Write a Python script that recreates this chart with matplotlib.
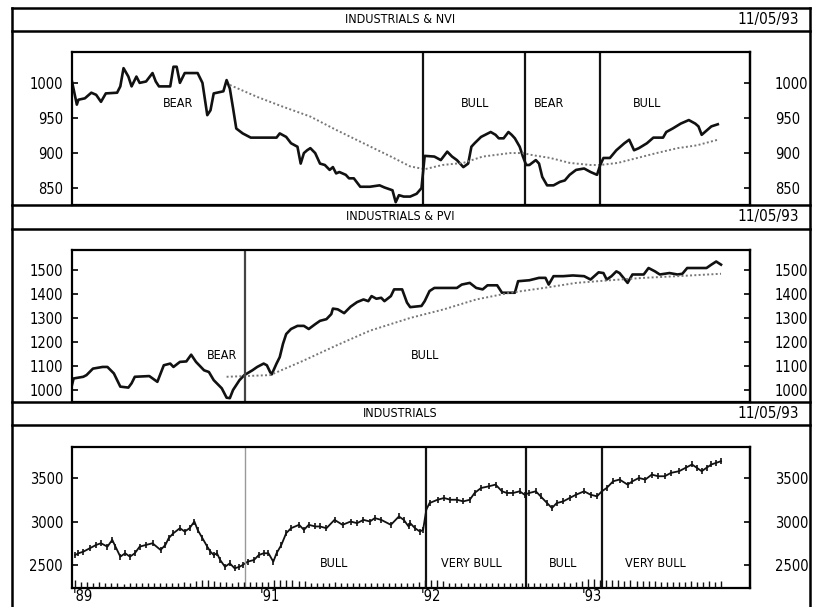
import matplotlib
matplotlib.use("Agg")
import matplotlib.pyplot as plt
from matplotlib.lines import Line2D
import numpy as np

plt.rcParams['font.family'] = ['DejaVu Sans']
plt.rcParams['font.stretch'] = 'condensed'

# ---------------- data (fractional years, index values) ----------------
nvi_x = [1989.77, 1989.80, 1989.81, 1989.85, 1989.89, 1989.92, 1989.95, 1989.98, 1990.05, 1990.07,
         1990.09, 1990.12, 1990.14, 1990.17, 1990.19, 1990.23, 1990.27, 1990.29, 1990.31, 1990.38,
         1990.40, 1990.42, 1990.44, 1990.47, 1990.55, 1990.58, 1990.61, 1990.63, 1990.65, 1990.71,
         1990.73, 1990.75, 1990.77, 1990.79, 1990.83, 1990.88, 1991.04, 1991.06, 1991.10, 1991.13,
         1991.17, 1991.19, 1991.21, 1991.23, 1991.25, 1991.28, 1991.31, 1991.34, 1991.37, 1991.39,
         1991.41, 1991.43, 1991.47, 1991.49, 1991.52, 1991.56, 1991.62, 1991.68, 1991.71, 1991.76,
         1991.78, 1991.80, 1991.83, 1991.87, 1991.91, 1991.94, 1991.95, 1991.96, 1992.02, 1992.06,
         1992.10, 1992.13, 1992.16, 1992.20, 1992.23, 1992.25, 1992.27, 1992.31, 1992.37, 1992.40,
         1992.42, 1992.45, 1992.48, 1992.50, 1992.52, 1992.55, 1992.57, 1992.59, 1992.61, 1992.65,
         1992.67, 1992.69, 1992.72, 1992.76, 1992.80, 1992.83, 1992.86, 1992.90, 1992.95, 1992.99,
         1993.03, 1993.05, 1993.07, 1993.11, 1993.15, 1993.20, 1993.23, 1993.26, 1993.29, 1993.34,
         1993.38, 1993.44, 1993.46, 1993.50, 1993.55, 1993.60, 1993.64, 1993.66, 1993.68, 1993.70,
         1993.74, 1993.78]
nvi = [1002, 969, 976, 978, 986, 983, 973, 985, 986, 995,
       1021, 1009, 995, 1009, 1000, 1002, 1014, 1002, 995, 995,
       1023, 1023, 1000, 1014, 1014, 1000, 954, 961, 985, 988,
       1004, 992, 964, 935, 928, 922, 922, 928, 923, 914,
       909, 885, 900, 904, 907, 900, 885, 883, 876, 880,
       871, 873, 869, 864, 864, 852, 852, 854, 851, 847,
       830, 840, 838, 838, 842, 850, 873, 896, 895, 890,
       902, 895, 890, 880, 885, 909, 914, 923, 930, 926,
       921, 921, 930, 926, 921, 909, 895, 883, 883, 890,
       885, 866, 854, 854, 859, 861, 869, 876, 878, 873,
       869, 883, 893, 893, 904, 914, 919, 904, 907, 914,
       922, 922, 930, 935, 942, 947, 942, 938, 926, 930,
       938, 941]
nvi_ma_x = [1990.75, 1990.92, 1991.08, 1991.25, 1991.41, 1991.58, 1991.75, 1991.87, 1991.96, 1992.07,
            1992.20, 1992.32, 1992.49, 1992.57, 1992.63, 1992.74, 1992.86, 1992.99, 1993.05, 1993.16,
            1993.28, 1993.40, 1993.53, 1993.65, 1993.78]
nvi_ma = [997, 980, 966, 952, 933, 914, 895, 881, 877, 883,
          886, 895, 900, 900, 897, 893, 886, 883, 883, 886,
          893, 900, 907, 911, 919]

pvi_x = [1989.77, 1989.78, 1989.84, 1989.86, 1989.90, 1989.96, 1989.99, 1990.03, 1990.07, 1990.12,
         1990.14, 1990.16, 1990.25, 1990.30, 1990.34, 1990.38, 1990.40, 1990.44, 1990.48, 1990.51,
         1990.54, 1990.59, 1990.62, 1990.65, 1990.70, 1990.73, 1990.75, 1990.77, 1990.81, 1990.84,
         1990.89, 1990.92, 1990.96, 1990.98, 1991.00, 1991.01, 1991.04, 1991.06, 1991.08, 1991.10,
         1991.13, 1991.17, 1991.21, 1991.24, 1991.28, 1991.31, 1991.35, 1991.38, 1991.39, 1991.42,
         1991.46, 1991.50, 1991.54, 1991.58, 1991.61, 1991.63, 1991.66, 1991.69, 1991.71, 1991.75,
         1991.77, 1991.82, 1991.85, 1991.87, 1991.94, 1991.96, 1991.99, 1992.02, 1992.16, 1992.19,
         1992.24, 1992.28, 1992.32, 1992.35, 1992.41, 1992.44, 1992.52, 1992.54, 1992.61, 1992.67,
         1992.71, 1992.73, 1992.76, 1992.82, 1992.88, 1992.95, 1992.99, 1993.04, 1993.07, 1993.09,
         1993.12, 1993.15, 1993.17, 1993.22, 1993.25, 1993.32, 1993.35, 1993.39, 1993.42, 1993.48,
         1993.53, 1993.56, 1993.59, 1993.71, 1993.74, 1993.77, 1993.80]
pvi = [1021, 1048, 1055, 1062, 1089, 1096, 1096, 1069, 1014, 1010,
       1028, 1055, 1058, 1034, 1103, 1110, 1096, 1117, 1119, 1147,
       1117, 1082, 1075, 1041, 1007, 968, 966, 1000, 1041, 1062,
       1082, 1096, 1110, 1103, 1075, 1065, 1110, 1137, 1192, 1233,
       1254, 1267, 1267, 1254, 1274, 1288, 1295, 1316, 1339, 1336,
       1320, 1347, 1366, 1377, 1370, 1391, 1380, 1384, 1370, 1391,
       1419, 1419, 1364, 1345, 1350, 1370, 1412, 1425, 1425, 1439,
       1446, 1425, 1419, 1436, 1436, 1405, 1405, 1453, 1457, 1467,
       1467, 1439, 1474, 1474, 1477, 1474, 1460, 1490, 1487, 1460,
       1474, 1494, 1487, 1446, 1481, 1481, 1508, 1494, 1481, 1487,
       1481, 1484, 1508, 1508, 1522, 1535, 1522]
pvi_ma_x = [1990.73, 1991.00, 1991.21, 1991.41, 1991.62, 1991.87, 1992.08, 1992.28, 1992.49, 1992.70,
            1992.90, 1993.11, 1993.32, 1993.53, 1993.80]
pvi_ma = [1055, 1062, 1123, 1185, 1247, 1300, 1336, 1377, 1405, 1425,
          1446, 1457, 1467, 1474, 1484]

djia_x = [1989.79, 1989.81, 1989.84, 1989.88, 1989.92, 1989.95, 1989.99, 1990.02, 1990.04, 1990.07,
          1990.10, 1990.13, 1990.16, 1990.19, 1990.23, 1990.27, 1990.32, 1990.35, 1990.37, 1990.40,
          1990.44, 1990.47, 1990.50, 1990.53, 1990.55, 1990.58, 1990.61, 1990.63, 1990.65, 1990.67,
          1990.69, 1990.72, 1990.75, 1990.78, 1990.81, 1990.83, 1990.86, 1990.90, 1990.93, 1990.96,
          1990.99, 1991.02, 1991.04, 1991.07, 1991.10, 1991.13, 1991.18, 1991.21, 1991.24, 1991.28,
          1991.31, 1991.35, 1991.40, 1991.45, 1991.50, 1991.54, 1991.58, 1991.62, 1991.65, 1991.69,
          1991.75, 1991.80, 1991.83, 1991.86, 1991.87, 1991.90, 1991.93, 1991.95, 1991.97, 1991.99,
          1992.04, 1992.08, 1992.12, 1992.16, 1992.20, 1992.24, 1992.27, 1992.31, 1992.36, 1992.40,
          1992.44, 1992.47, 1992.51, 1992.55, 1992.58, 1992.61, 1992.65, 1992.68, 1992.72, 1992.75,
          1992.78, 1992.82, 1992.86, 1992.90, 1992.95, 1992.99, 1993.03, 1993.06, 1993.09, 1993.13,
          1993.17, 1993.22, 1993.25, 1993.29, 1993.33, 1993.37, 1993.41, 1993.45, 1993.49, 1993.54,
          1993.58, 1993.62, 1993.65, 1993.68, 1993.71, 1993.74, 1993.77, 1993.80]
djia = [2615, 2635, 2653, 2692, 2731, 2750, 2711, 2789, 2711, 2596,
        2635, 2596, 2635, 2711, 2731, 2750, 2673, 2731, 2808, 2866,
        2923, 2885, 2923, 3000, 2904, 2808, 2711, 2653, 2615, 2635,
        2558, 2480, 2519, 2462, 2480, 2500, 2538, 2558, 2615, 2635,
        2635, 2538, 2635, 2731, 2866, 2923, 2962, 2904, 2962, 2943,
        2943, 2923, 3019, 2962, 3000, 2981, 3019, 3000, 3039, 3019,
        2962, 3058, 3019, 2943, 2981, 2923, 2885, 2904, 3135, 3212,
        3250, 3270, 3250, 3250, 3231, 3250, 3328, 3385, 3405, 3424,
        3347, 3328, 3328, 3347, 3308, 3328, 3347, 3289, 3212, 3155,
        3212, 3231, 3270, 3308, 3347, 3308, 3289, 3347, 3385, 3462,
        3482, 3424, 3462, 3500, 3482, 3539, 3520, 3520, 3559, 3578,
        3617, 3655, 3617, 3578, 3617, 3655, 3674, 3693]

# volume ticks along the bottom of the Industrials panel (millions of shares, two-week steps)
volume = [260, 180, 190, 170, 200, 175,
          150, 165, 140, 170, 155, 160, 145, 170, 150, 165, 175, 160, 185, 170,
          230, 255, 240, 210,
          180, 200, 175, 190, 185, 205, 180, 195, 200,
          240, 265, 250, 270, 235, 225,
          170, 160, 175, 165, 180, 155, 170, 160, 175, 165, 160, 170, 155, 165, 175, 160, 170, 165, 180,
          250, 245, 260, 230,
          160, 155, 170, 150, 165, 160, 175, 155, 165, 160, 150, 170, 160, 155, 165, 175, 160, 170, 165,
          180, 175, 190, 230,
          280, 300, 260, 250,
          240, 255, 230, 250, 225, 235, 210, 220, 200,
          190, 200, 185, 195, 210, 190, 200, 215, 205, 220]
vol_first, vol_last = 1989.79, 1993.80

# regime boundaries and labels
nvi_splits = [1991.95, 1992.58, 1993.05]
nvi_regimes = ["BEAR", "BULL", "BEAR", "BULL"]
nvi_regime_x = [1990.43, 1992.27, 1992.73, 1993.34]
pvi_splits = [1990.845]
pvi_regimes = ["BEAR", "BULL"]
pvi_regime_x = [1990.70, 1991.96]
djia_splits = [1990.845, 1991.97, 1992.59, 1993.06]
djia_regimes = ["BULL", "VERY BULL", "BULL", "VERY BULL"]
djia_regime_x = [1991.40, 1992.25, 1992.82, 1993.39]

titles = ["INDUSTRIALS & NVI", "INDUSTRIALS & PVI", "INDUSTRIALS"]
date_str = "11/05/93"
nvi_ticks = [850, 900, 950, 1000]
pvi_ticks = [1000, 1100, 1200, 1300, 1400, 1500]
djia_ticks = [2500, 3000, 3500]
year_ticks = [1989.84, 1991.0, 1992.0, 1993.0]
year_labels = ["'89", "'91", "'92", "'93"]

TICK_FS = 10.5
LABEL_FS = 9

# ---------------- layout (pixel helpers) ----------------
W, H = 818, 607
fig = plt.figure(figsize=(W / 100, H / 100), dpi=100)


def box(x0, y0, x1, y1):
    return [x0 / W, 1 - y1 / H, (x1 - x0) / W, (y1 - y0) / H]


def hline(y, lw=1.8):
    fig.add_artist(Line2D([12 / W, 810 / W], [1 - y / H, 1 - y / H], color='black', lw=lw,
                          transform=fig.transFigure))


# outer frame + header bands
fig.add_artist(Line2D([12 / W, 12 / W], [1 - 8 / H, 0], color='black', lw=1.8, transform=fig.transFigure))
fig.add_artist(Line2D([810 / W, 810 / W], [1 - 8 / H, 0], color='black', lw=1.8, transform=fig.transFigure))
for y in [8, 31, 205, 229, 402, 425]:
    hline(y)
for title, yc in zip(titles, [19.5, 217, 413.5]):
    fig.text(400 / W, 1 - yc / H, title, ha='center', va='center', fontsize=9)
    fig.text(799 / W, 1 - yc / H, date_str, ha='right', va='center', fontsize=11)

XLIM = (1989.77, 1993.98)


def make_axes(rect, ylim, ticks):
    ax = fig.add_axes(rect)
    ax.set_xlim(*XLIM)
    ax.set_ylim(*ylim)
    for s in ax.spines.values():
        s.set_linewidth(1.6)
    ax.set_yticks(ticks)
    ax.set_yticklabels([str(t) for t in ticks])
    ax.tick_params(axis='y', direction='in', length=4, width=1.2, pad=6.5, labelsize=TICK_FS)
    ax.tick_params(axis='x', length=0, labelbottom=False)
    sec = ax.secondary_yaxis('right')
    sec.set_yticks(ticks)
    sec.set_yticklabels([str(t) for t in ticks])
    sec.tick_params(direction='in', length=4, width=1.2, pad=18, labelsize=TICK_FS)
    sec.spines['right'].set_linewidth(1.6)
    return ax


# ---- panel 1: Industrials & NVI ----
ax1 = make_axes(box(72, 52, 750, 205), (826, 1044), nvi_ticks)
ax1.plot(nvi_x, nvi, color='#111111', lw=1.9)
ax1.plot(nvi_ma_x, nvi_ma, color='#777777', lw=1.4, linestyle=(0, (1, 1.2)))
for xs in nvi_splits:
    ax1.axvline(xs, color='#111111', lw=1.6)
for lab, xl in zip(nvi_regimes, nvi_regime_x):
    ax1.text(xl, 971, lab, ha='center', va='center', fontsize=LABEL_FS)

# ---- panel 2: Industrials & PVI ----
ax2 = make_axes(box(72, 250, 750, 402), (950, 1583), pvi_ticks)
ax2.plot(pvi_x, pvi, color='#111111', lw=1.9)
ax2.plot(pvi_ma_x, pvi_ma, color='#777777', lw=1.4, linestyle=(0, (1, 1.2)))
for xs in pvi_splits:
    ax2.axvline(xs, color='#444444', lw=1.6)
for lab, xl in zip(pvi_regimes, pvi_regime_x):
    ax2.text(xl, 1143, lab, ha='center', va='center', fontsize=LABEL_FS)

# ---- panel 3: Industrials (bars + volume) ----
ax3 = make_axes(box(72, 447, 750, 588), (2236, 3856), djia_ticks)
ax3.plot(djia_x, djia, color='#111111', lw=1.3, marker='|', ms=5, mew=1.2)
for i, xs in enumerate(djia_splits):
    ax3.axvline(xs, color='#999999' if i == 0 else '#111111', lw=1.0 if i == 0 else 1.6)
for lab, xl in zip(djia_regimes, djia_regime_x):
    ax3.text(xl, 2523, lab, ha='center', va='center', fontsize=LABEL_FS)
ax3.set_xticks(year_ticks)
ax3.set_xticklabels(year_labels)
ax3.tick_params(axis='x', length=0, labelbottom=True, labelsize=TICK_FS, pad=1)

vax = ax3.twinx()
vax.set_ylim(0, 4500)
vax.set_xlim(*XLIM)
vol_x = np.linspace(vol_first, vol_last, len(volume))
vax.vlines(vol_x, 0, volume, color='#111111', lw=1.0)
vax.set_axis_off()

fig.savefig('out.png', dpi=100)
